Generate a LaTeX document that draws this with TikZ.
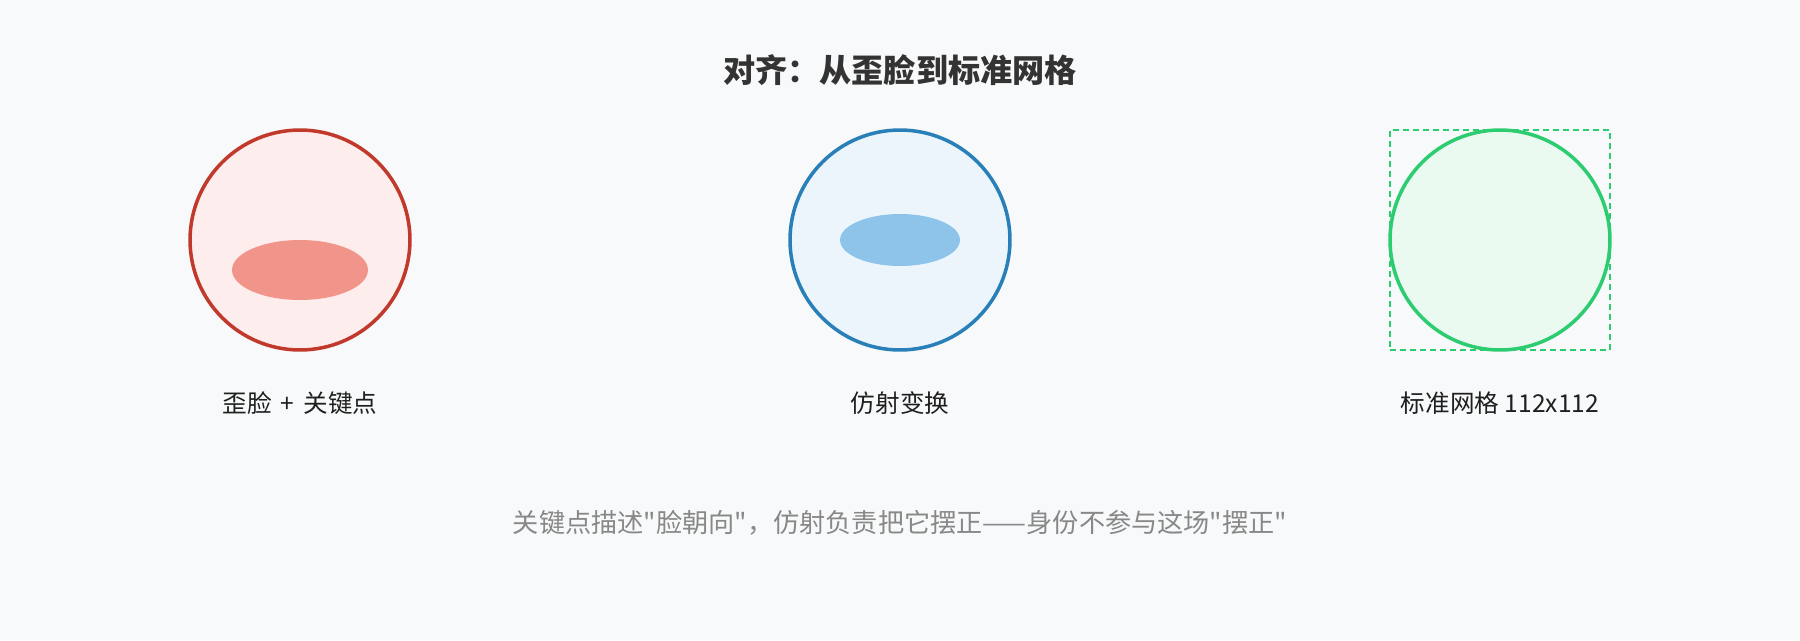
\documentclass[tikz,border=0pt]{standalone}
\usepackage{fontspec}
\newfontfamily\cjk{Noto Sans CJK SC}
\usetikzlibrary{positioning,shapes.geometric}
\definecolor{bgcol}{HTML}{F8F9FA}
\definecolor{titlecol}{HTML}{333333}
\definecolor{notecol}{HTML}{888888}
\definecolor{rawline}{HTML}{C0392B}
\definecolor{rawfill}{HTML}{FDEDEC}
\definecolor{rawmark}{HTML}{F1948A}
\definecolor{warpline}{HTML}{2980B9}
\definecolor{warpfill}{HTML}{EBF5FB}
\definecolor{warpmark}{HTML}{8EC4EA}
\definecolor{gridline}{HTML}{2ECC71}
\definecolor{gridfill}{HTML}{EAFAF1}
\tikzset{
  face/.style={circle,minimum size=4.4cm,inner sep=0pt,line width=2pt},
  eyes/.style={ellipse,inner sep=0pt},
  caption/.style={font=\cjk\fontsize{14pt}{17pt}\selectfont,text=black!88}
}

\begin{document}
\begin{tikzpicture}[x=0.02cm,y=-0.02cm]
\useasboundingbox[fill=bgcol] (0,0) rectangle (1800,640);
% Title
\node[font=\cjk\fontsize{18.3pt}{22pt}\selectfont\bfseries,text=titlecol] (title) at (900,70) {对齐：从歪脸到标准网格};
% raw face
\node[face,draw=rawline,fill=rawfill] (raw) at (300,240) {};
\node[eyes,fill=rawmark,minimum width=2.72cm,minimum height=1.2cm] (rawkp) at (300,270) {};
\node[caption] (rawlab) at (300,403) {歪脸\hspace{2pt} + \hspace{2pt}关键点};
% affine
\node[face,draw=warpline,fill=warpfill] (warp) at (900,240) {};
\node[eyes,fill=warpmark,minimum width=2.4cm,minimum height=1.04cm] (warpkp) at (900,240) {};
\node[caption] (warplab) at (900,403) {仿射变换};
% grid
\node[rectangle,draw=gridline,line width=0.85pt,dash pattern=on 3.4pt off 2.3pt,minimum size=4.4cm,inner sep=0pt] (box) at (1500,240) {};
\node[face,draw=gridline,fill=gridfill] (grid) at (1500,240) {};
\node[caption] (gridlab) at (1500,403) {标准网格 112x112};
% Note
\node[font=\cjk\fontsize{14.9pt}{18pt}\selectfont,text=notecol] (note) at (900,523) {关键点描述"脸朝向"，仿射负责把它摆正——身份不参与这场"摆正"};
\end{tikzpicture}
\end{document}
